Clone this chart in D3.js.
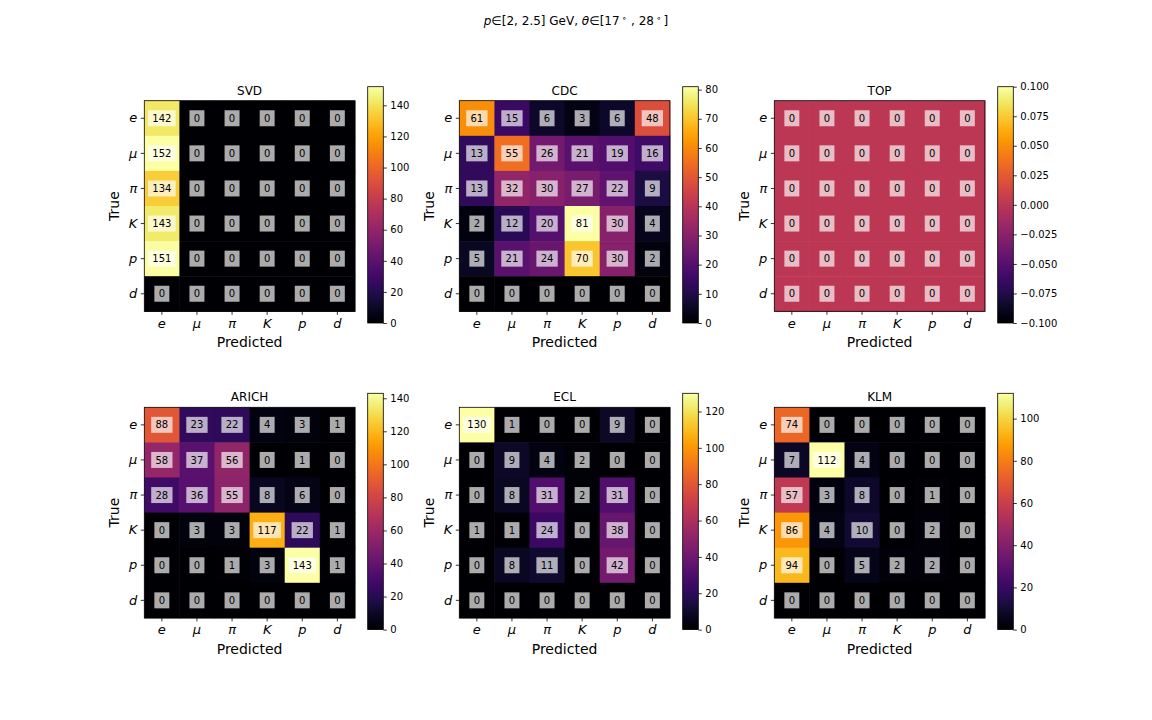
<!DOCTYPE html>
<html><head><meta charset="utf-8">
<script src="https://cdn.jsdelivr.net/npm/d3@7"></script>
<style>
body{margin:0;background:#fff;}
text{font-family:"DejaVu Sans",sans-serif;}
</style></head>
<body><svg id="c" width="1152" height="720"></svg>
<script>
const categories = ["e","μ","π","K","p","d"];
const panelNames = ["SVD","CDC","TOP","ARICH","ECL","KLM"];
const svdValues = [
 [142,0,0,0,0,0],[152,0,0,0,0,0],[134,0,0,0,0,0],[143,0,0,0,0,0],[151,0,0,0,0,0],[0,0,0,0,0,0]];
const cdcValues = [
 [61,15,6,3,6,48],[13,55,26,21,19,16],[13,32,30,27,22,9],[2,12,20,81,30,4],[5,21,24,70,30,2],[0,0,0,0,0,0]];
const topValues = [
 [0,0,0,0,0,0],[0,0,0,0,0,0],[0,0,0,0,0,0],[0,0,0,0,0,0],[0,0,0,0,0,0],[0,0,0,0,0,0]];
const arichValues = [
 [88,23,22,4,3,1],[58,37,56,0,1,0],[28,36,55,8,6,0],[0,3,3,117,22,1],[0,0,1,3,143,1],[0,0,0,0,0,0]];
const eclValues = [
 [130,1,0,0,9,0],[0,9,4,2,0,0],[0,8,31,2,31,0],[1,1,24,0,38,0],[0,8,11,0,42,0],[0,0,0,0,0,0]];
const klmValues = [
 [74,0,0,0,0,0],[7,112,4,0,0,0],[57,3,8,0,1,0],[86,4,10,0,2,0],[94,0,5,2,2,0],[0,0,0,0,0,0]];
const svdTicks = [0,20,40,60,80,100,120,140];
const cdcTicks = [0,10,20,30,40,50,60,70,80];
const topTicks = [-0.1,-0.075,-0.05,-0.025,0,0.025,0.05,0.075,0.1];
const arichTicks = [0,20,40,60,80,100,120,140];
const eclTicks = [0,20,40,60,80,100,120];
const klmTicks = [0,20,40,60,80,100];

const allValues = [svdValues,cdcValues,topValues,arichValues,eclValues,klmValues];
const allTicks = [svdTicks,cdcTicks,topTicks,arichTicks,eclTicks,klmTicks];

const svg = d3.select("#c");
const defs = svg.append("defs");
// suptitle
const st = svg.append("text").attr("x",576).attr("y",25).attr("text-anchor","middle").attr("font-size",12);
st.append("tspan").attr("font-style","italic").text("p");
st.append("tspan").text("∈[2, 2.5] GeV, ");
st.append("tspan").attr("font-style","italic").text("θ");
st.append("tspan").text("∈[17");
st.append("tspan").attr("font-size",9).attr("dy",-4).attr("dx",2).text("∘");
st.append("tspan").attr("dy",4).text(" , 28");
st.append("tspan").attr("font-size",9).attr("dy",-4).attr("dx",2).text("∘");
st.append("tspan").attr("dy",4).attr("dx",2).text("]");

const colX = [144.3, 459.3, 774.3];
const rowY = [100.7, 407.3];
const size = 210.6;
const cbOff = 223.4, cbW = 15.6, cbTop = -14, cbH = 236.3;

// gradient
const grad = defs.append("linearGradient").attr("id","inf").attr("x1",0).attr("y1",1).attr("x2",0).attr("y2",0);
d3.range(0,101).forEach(i=>grad.append("stop").attr("offset",(i/100)).attr("stop-color",d3.interpolateInferno(i/100)));

const minus = s => s.replace(/-/g,"−");

panelNames.forEach((name,pi)=>{
  const x0 = colX[pi%3], y0 = rowY[Math.floor(pi/3)];
  const vals = allValues[pi], ticks = allTicks[pi];
  let vmax = d3.max(vals.flat()), vmin = d3.min(vals.flat());
  if (vmax===vmin){ vmin = vmin-0.1; vmax = vmax+0.1; }
  const color = d3.scaleSequential(d3.interpolateInferno).domain([vmin,vmax]);
  const x = d3.scaleBand().domain(categories).range([x0,x0+size]);
  const y = d3.scaleBand().domain(categories).range([y0,y0+size]);
  const g = svg.append("g");
  vals.forEach((row,ri)=>row.forEach((v,ci)=>{
    g.append("rect").attr("x",x(categories[ci])).attr("y",y(categories[ri]))
      .attr("width",x.bandwidth()+0.5).attr("height",y.bandwidth()+0.5).attr("fill",color(v));
  }));
  // annotations
  vals.forEach((row,ri)=>row.forEach((v,ci)=>{
    const cx = x(categories[ci])+x.bandwidth()/2, cy = y(categories[ri])+y.bandwidth()/2;
    const t = String(v);
    const tw = t.length*6.36;
    g.append("rect").attr("x",cx-tw/2-4.3).attr("y",cy-8).attr("width",tw+8.6).attr("height",16)
      .attr("fill","#fff").attr("fill-opacity",0.67);
    g.append("text").attr("x",cx).attr("y",cy+3.6).attr("text-anchor","middle").attr("font-size",10).text(t);
  }));
  g.append("rect").attr("x",x0).attr("y",y0).attr("width",size).attr("height",size)
    .attr("fill","none").attr("stroke","#000").attr("stroke-width",0.8);
  // axes
  const xa = g.append("g").attr("transform",`translate(0,${y0+size})`)
    .call(d3.axisBottom(x).tickSize(3.5).tickPadding(3.5));
  const ya = g.append("g").attr("transform",`translate(${x0},0)`)
    .call(d3.axisLeft(y).tickSize(3.5).tickPadding(3.5));
  [xa,ya].forEach(a=>{
    a.select(".domain").remove();
    a.selectAll(".tick line").attr("stroke","#000").attr("stroke-width",0.8);
    a.selectAll(".tick text").attr("font-size",13).attr("font-style","italic").attr("fill","#000")
      .attr("font-family","DejaVu Sans");
  });
  g.append("text").attr("x",x0+size/2).attr("y",y0-6).attr("text-anchor","middle").attr("font-size",12).text(name);
  g.append("text").attr("x",x0+size/2).attr("y",y0+size+36).attr("text-anchor","middle").attr("font-size",14).text("Predicted");
  g.append("text").attr("transform",`translate(${x0-25},${y0+size/2}) rotate(-90)`).attr("text-anchor","middle").attr("font-size",14).text("True");
  // colorbar
  const cx0 = x0+cbOff, cy0 = y0+cbTop;
  g.append("rect").attr("x",cx0).attr("y",cy0).attr("width",cbW).attr("height",cbH).attr("fill","url(#inf)");
  g.append("rect").attr("x",cx0).attr("y",cy0).attr("width",cbW).attr("height",cbH)
    .attr("fill","none").attr("stroke","#000").attr("stroke-width",0.8);
  const cs = d3.scaleLinear().domain([vmin,vmax]).range([cy0+cbH,cy0]);
  const fmt = (vmax-vmin)<1 ? (d=>minus(d3.format(".3f")(d))) : d3.format("d");
  const ca = g.append("g").attr("transform",`translate(${cx0+cbW},0)`)
    .call(d3.axisRight(cs).tickValues(ticks).tickFormat(fmt).tickSize(3.5).tickPadding(3.5));
  ca.select(".domain").remove();
  ca.selectAll(".tick line").attr("stroke","#000").attr("stroke-width",0.8);
  ca.selectAll(".tick text").attr("font-size",10).attr("fill","#000").attr("font-family","DejaVu Sans");
});
</script></body></html>
